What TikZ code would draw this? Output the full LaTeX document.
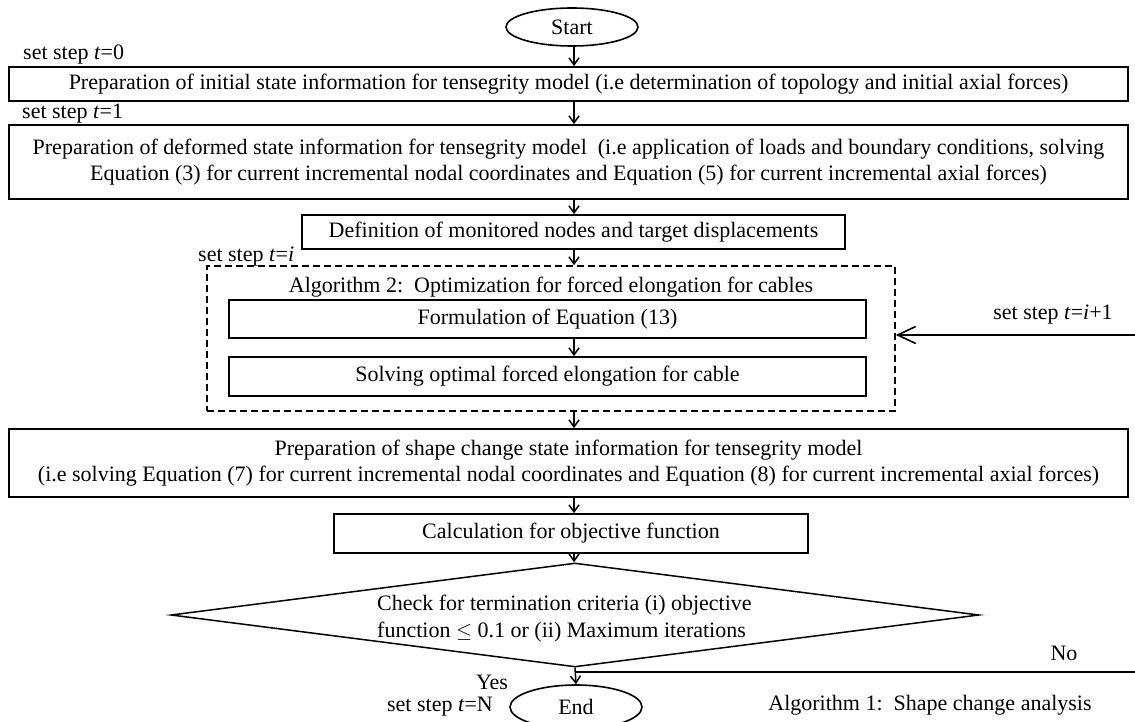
\documentclass[tikz,border=0pt]{standalone}
\usepackage{fontspec}
\setmainfont{Liberation Serif}
\usetikzlibrary{shapes.geometric,arrows.meta}
\begin{document}
\begin{tikzpicture}[x=1pt,y=-1pt,
  font=\fontsize{22}{26}\selectfont,
  box/.style={draw,line width=1.7pt,inner sep=0pt,align=center},
  term/.style={draw,ellipse,line width=1.6pt,inner sep=0pt,minimum width=132pt,minimum height=38pt},
  lab/.style={inner sep=0pt,anchor=west},
  arr/.style={line width=1.5pt,-{Straight Barb[length=7pt,width=10pt,line width=1.5pt]}},
  bigarr/.style={line width=1.6pt,-{Straight Barb[length=18pt,width=17pt,line width=1.6pt]}},
  plain/.style={line width=1.8pt}]
\useasboundingbox (0,0) rectangle (1135,722);
\fill[white] (0,0) rectangle (1135,722);
\coordinate (ax) at (574,0);

\node[term] (start) at (572,27) {Start};
\node[lab] (l0) at (23,55) {set step \textit{t}=0};
\node[box,minimum width=1119pt,minimum height=34pt] (b1) at (568.5,84) {Preparation of initial state information for tensegrity model (i.e determination of topology and initial axial forces)};
\node[lab] (l1) at (22,114) {set step \textit{t}=1};
\node[box,minimum width=1119pt,minimum height=74pt] (b2) at (568.5,162) {Preparation of deformed state information for tensegrity model\ \ (i.e application of loads and boundary conditions, solving\\Equation (3) for current incremental nodal coordinates and Equation (5) for current incremental axial forces)};
\node[box,minimum width=543pt,minimum height=34pt] (b3) at (573.5,232) {Definition of monitored nodes and target displacements};
\node[lab] (li) at (198,257) {set step \textit{t}=\textit{i}};
\node[draw,line width=1.6pt,dash pattern=on 7pt off 4pt,inner sep=0pt,minimum width=688pt,minimum height=145pt] (dash) at (551,338.5) {};
\node (alg2) at (551,287) {Algorithm 2:\ \ Optimization for forced elongation for cables};
\node[box,minimum width=637pt,minimum height=38pt] (b4) at (547.5,319) {Formulation of Equation (13)};
\node[box,minimum width=637pt,minimum height=39pt] (b5) at (547.5,376.5) {Solving optimal forced elongation for cable};
\node[anchor=center] (lip) at (1053,315) {set step \textit{t}=\textit{i}+1};
\coordinate (rtop) at (1135,335);
\node[box,minimum width=1119pt,minimum height=68pt] (b6) at (568.5,463) {Preparation of shape change state information for tensegrity model\\(i.e solving Equation (7) for current incremental nodal coordinates and Equation (8) for current incremental axial forces)};
\node[box,minimum width=474pt,minimum height=39pt] (b7) at (571,533.5) {Calculation for objective function};
\node[draw,diamond,line width=1.5pt,inner sep=0pt,shape aspect=7.77,minimum width=808pt,minimum height=104pt] (dia) at (575,615) {};
\node[align=left,inner sep=0pt,anchor=west,font=\fontsize{22}{27}\selectfont] (diat) at (377,618.5) {Check for termination criteria (i) objective\\function \(\leq\) 0.1 or (ii) Maximum iterations};
\node[term,minimum height=44pt] (end) at (576,707) {End};
\node (yes) at (492,682) {Yes};
\node (ln) at (440,707) {set step \textit{t}=N};
\node (no) at (1064,653) {No};
\coordinate (rbot) at (1135,672);
\node (alg1) at (930,705) {Algorithm 1:\ \ Shape change analysis};

\draw[arr] (start.south -| ax) -- (b1.north -| ax);
\draw[arr] (b1.south -| ax) -- (b2.north -| ax);
\draw[arr] (b2.south -| ax) -- (b3.north -| ax);
\draw[arr] (b3.south -| ax) -- (dash.north -| ax);
\draw[arr] (b4.south -| ax) -- (b5.north -| ax);
\draw[arr] (dash.south -| ax) -- (b6.north -| ax);
\draw[arr] (b6.south -| ax) -- (b7.north -| ax);
\draw[arr] (b7.south -| ax) -- (dia.north -| ax);
\draw[arr] (dia.south) -- (end.north);
\draw[bigarr] (rtop) -- (dash.east |- rtop);
\draw[plain] (rbot) -- (dia.south |- rbot);
\end{tikzpicture}
\end{document}
